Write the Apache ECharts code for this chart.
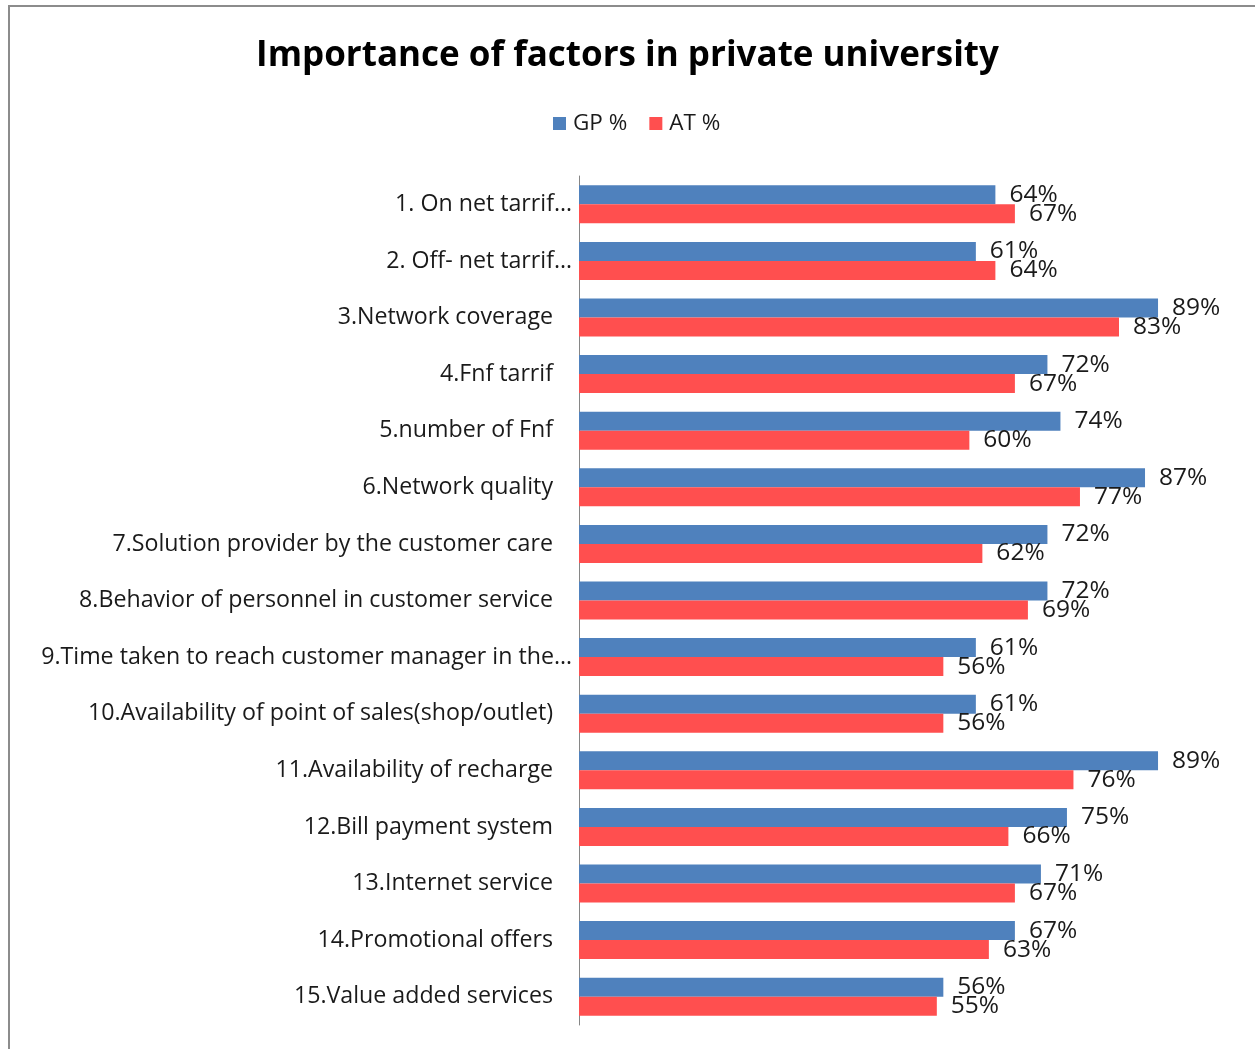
<!DOCTYPE html>
<html>
<head>
<meta charset="utf-8">
<script src="https://cdn.jsdelivr.net/npm/echarts@6/dist/echarts.min.js"></script>
<style>
  html, body { margin: 0; padding: 0; background: #fff; }
  #frame { position: absolute; left: 8px; top: 5px; width: 1300px; height: 1100px;
           border-top: 2px solid #8c8c8c; border-left: 2px solid #8c8c8c; box-sizing: border-box; }
  #chart { position: absolute; left: 0; top: 0; width: 1255px; height: 1049px; }
</style>
</head>
<body>
<div id="frame"></div>
<div id="chart"></div>
<script>
const categories = [
  '1. On net tarrif…',
  '2. Off- net tarrif…',
  '3.Network coverage',
  '4.Fnf tarrif',
  '5.number of Fnf',
  '6.Network quality',
  '7.Solution provider by the customer care',
  '8.Behavior of personnel in customer service',
  '9.Time taken to reach customer manager in the…',
  '10.Availability of point of sales(shop/outlet)',
  '11.Availability of recharge',
  '12.Bill payment system',
  '13.Internet service',
  '14.Promotional offers',
  '15.Value added services'
];
const gpValues = [64, 61, 89, 72, 74, 87, 72, 72, 61, 61, 89, 75, 71, 67, 56];
const atValues = [67, 64, 83, 67, 60, 77, 62, 69, 56, 56, 76, 66, 67, 63, 55];
const seriesNames = ['GP %', 'AT %'];

const FONT = '"Open Sans", sans-serif';
const chart = echarts.init(document.getElementById('chart'), null, { renderer: 'canvas' });

// Truncated names sit flush against the axis; full names keep a wider gap.
const yData = categories.map(c => ({
  value: c,
  textStyle: { padding: c.endsWith('…') ? [3, 0, 0, 0] : [3, 19, 0, 0] }
}));

const label = {
  show: true,
  position: 'right',
  distance: 14,
  formatter: p => p.value + '%',
  color: '#1a1a1a',
  fontFamily: FONT,
  fontSize: 24.5
};

chart.setOption({
  animation: false,
  backgroundColor: 'transparent',
  title: {
    text: 'Importance of factors in private university',
    left: 'center',
    top: 34,
    textStyle: { fontFamily: FONT, fontSize: 35, fontWeight: 'bold', color: '#000' }
  },
  legend: {
    top: 107,
    left: 548,
    itemWidth: 13,
    itemHeight: 13,
    itemGap: 22,
    icon: 'rect',
    textStyle: { fontFamily: FONT, fontSize: 22.5, color: '#1a1a1a', padding: [0, 0, 0, 2] },
    data: seriesNames
  },
  grid: { left: 579, top: 176, width: 650.6, height: 849, containLabel: false },
  xAxis: {
    type: 'value',
    min: 0,
    max: 100,
    show: false
  },
  yAxis: {
    type: 'category',
    inverse: true,
    data: yData,
    axisLine: { show: true, lineStyle: { color: '#868686', width: 1 } },
    axisTick: { show: false },
    axisLabel: { margin: 7, fontFamily: FONT, fontSize: 23.2, color: '#1a1a1a' },
    splitLine: { show: false }
  },
  series: [
    {
      name: seriesNames[0],
      type: 'bar',
      data: gpValues,
      barWidth: 19,
      barGap: '0%',
      itemStyle: { color: '#4F81BD' },
      label: label
    },
    {
      name: seriesNames[1],
      type: 'bar',
      data: atValues,
      barWidth: 19,
      barGap: '0%',
      itemStyle: { color: '#FF4F4F' },
      label: label
    }
  ]
});
</script>
</body>
</html>
